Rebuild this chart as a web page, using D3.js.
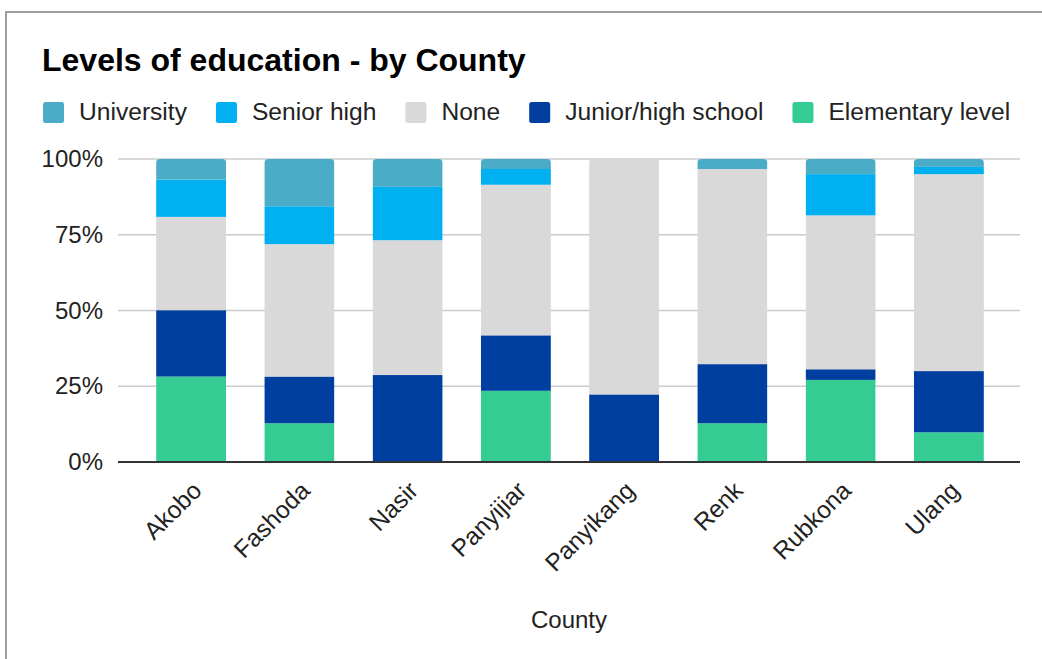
<!DOCTYPE html>
<html>
<head>
<meta charset="utf-8">
<script src="https://cdn.jsdelivr.net/npm/d3@7"></script>
<style>
  html, body { margin: 0; padding: 0; background: #fff; }
  svg { display: block; font-family: "Liberation Sans", Arial, Helvetica, sans-serif; }
</style>
</head>
<body>
<svg id="chart" width="1042" height="659"></svg>
<script>
// Counties along the x axis
const counties = ["Akobo", "Fashoda", "Nasir", "Panyijiar", "Panyikang", "Renk", "Rubkona", "Ulang"];

// Share of respondents (%) by level of education
const elementary = [28.2, 12.8, 0.0, 23.5, 0.0, 12.8, 27.1, 9.8];
const juniorHigh = [21.9, 15.4, 28.7, 18.3, 22.3, 19.5, 3.5, 20.2];
const noneLevel  = [30.8, 43.7, 44.5, 49.7, 77.7, 64.4, 50.8, 65.0];
const seniorHigh = [12.3, 12.5, 17.6, 5.2, 0.0, 0.0, 13.6, 2.4];
const university = [6.8, 15.6, 9.2, 3.3, 0.0, 3.3, 5.0, 2.6];

// Series, bottom of the stack first
const seriesKeys   = ["Elementary level", "Junior/high school", "None", "Senior high", "University"];
const seriesValues = [elementary, juniorHigh, noneLevel, seniorHigh, university];
const seriesColors = ["#34cc93", "#003e9f", "#d9d9d9", "#00b0f0", "#4aacc6"];

// Legend reads top of the stack first
const legendKeys = ["University", "Senior high", "None", "Junior/high school", "Elementary level"];

const yTicks = [0, 0.25, 0.5, 0.75, 1];

const svg = d3.select("#chart");

// Frame around the chart
svg.append("rect")
  .attr("x", 6).attr("y", 12)
  .attr("width", 1100).attr("height", 700)
  .attr("fill", "#fff")
  .attr("stroke", "#9e9e9e")
  .attr("stroke-width", 2);

// Title
svg.append("text")
  .attr("x", 42).attr("y", 71)
  .attr("font-size", 32)
  .attr("font-weight", "bold")
  .attr("fill", "#000")
  .text("Levels of education - by County");

// Legend
const legend = svg.append("g");
let lx = 43;
const colorOf = d3.scaleOrdinal().domain(seriesKeys).range(seriesColors);
legendKeys.forEach(k => {
  legend.append("rect")
    .attr("x", lx).attr("y", 102)
    .attr("width", 21).attr("height", 21)
    .attr("rx", 2.5)
    .attr("fill", colorOf(k));
  const t = legend.append("text")
    .attr("x", lx + 36).attr("y", 120)
    .attr("font-size", 24.6)
    .attr("fill", "#222")
    .text(k);
  lx += 36 + t.node().getComputedTextLength() + 29;
});

// Scales
const plotLeft = 118, plotRight = 1020, plotTop = 159, plotBottom = 462;
const x = d3.scaleBand()
  .domain(counties)
  .range([137, 1003])
  .paddingInner(0.353)
  .paddingOuter(0.1765);
const y = d3.scaleLinear().domain([0, 1]).range([plotBottom, plotTop]);

// Horizontal gridlines
svg.append("g")
  .selectAll("line")
  .data(yTicks.filter(t => t > 0))
  .join("line")
  .attr("x1", plotLeft).attr("x2", plotRight)
  .attr("y1", d => y(d)).attr("y2", d => y(d))
  .attr("stroke", "#cccccc")
  .attr("stroke-width", 1.5);

// Y axis labels
const yAxis = d3.axisLeft(y)
  .tickValues(yTicks)
  .tickFormat(d3.format(".0%"))
  .tickSize(0)
  .tickPadding(0);
const yg = svg.append("g")
  .attr("transform", `translate(${103},0)`)
  .call(yAxis);
yg.select(".domain").remove();
yg.selectAll("text")
  .attr("font-family", "Liberation Sans, Arial, sans-serif")
  .attr("font-size", 24)
  .attr("fill", "#222");

// Stacked data, normalised to 100%
const rows = counties.map((c, i) => {
  const r = { county: c };
  seriesKeys.forEach((k, j) => { r[k] = seriesValues[j][i]; });
  return r;
});
const stacked = d3.stack()
  .keys(seriesKeys)
  .offset(d3.stackOffsetExpand)(rows);

// Rounded tops: clip each column to a rect with rounded corners
const defs = svg.append("defs");
counties.forEach((c, i) => {
  defs.append("clipPath")
    .attr("id", "col-" + i)
    .append("rect")
    .attr("x", x(c))
    .attr("y", y(1))
    .attr("width", x.bandwidth())
    .attr("height", plotBottom - y(1) + 10)
    .attr("rx", 4);
});

const bars = svg.append("g");
stacked.forEach((layer, j) => {
  bars.append("g")
    .attr("fill", seriesColors[j])
    .selectAll("rect")
    .data(layer)
    .join("rect")
    .attr("clip-path", (d, i) => `url(#col-${i})`)
    .attr("x", d => x(d.data.county))
    .attr("y", d => y(d[1]))
    .attr("width", x.bandwidth())
    .attr("height", d => Math.max(0, y(d[0]) - y(d[1])));
});

// Baseline
svg.append("line")
  .attr("x1", plotLeft).attr("x2", plotRight)
  .attr("y1", plotBottom).attr("y2", plotBottom)
  .attr("stroke", "#333")
  .attr("stroke-width", 2);

// X axis labels, rotated
const xg = svg.append("g");
counties.forEach(c => {
  const cx = x(c) + x.bandwidth() / 2;
  xg.append("text")
    .attr("transform", `translate(${cx + 12},${492}) rotate(-45)`)
    .attr("text-anchor", "end")
    .attr("font-size", 24.5)
    .attr("fill", "#222")
    .text(c);
});

// X axis title
svg.append("text")
  .attr("x", (plotLeft + plotRight) / 2)
  .attr("y", 628)
  .attr("text-anchor", "middle")
  .attr("font-size", 24)
  .attr("fill", "#222")
  .text("County");
</script>
</body>
</html>
